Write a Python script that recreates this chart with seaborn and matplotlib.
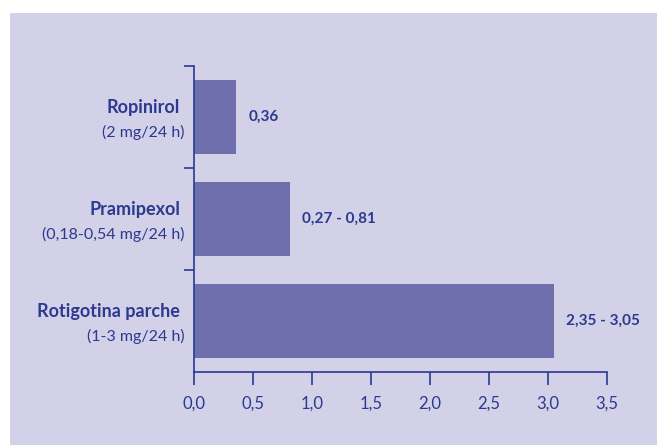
import matplotlib
matplotlib.use("Agg")

import pandas as pd
import matplotlib.pyplot as plt
import matplotlib.transforms as mtransforms
from matplotlib.patches import Rectangle
import seaborn as sns

# Data
drugs = ["Ropinirol", "Pramipexol", "Rotigotina parche"]
doses = ["(2 mg/24 h)", "(0,18-0,54 mg/24 h)", "(1-3 mg/24 h)"]
values = [0.36, 0.81, 3.05]
value_labels = ["0,36", "0,27 - 0,81", "2,35 - 3,05"]
xticks = [0, 0.5, 1.0, 1.5, 2.0, 2.5, 3.0, 3.5]
xtick_labels = ["0,0", "0,5", "1,0", "1,5", "2,0", "2,5", "3,0", "3,5"]

df = pd.DataFrame({"drug": drugs, "value": values})

bg = "#d3d1e7"
bar_color = "#6f6fae"
ink = "#2b3990"

sns.set_theme(style="white")
plt.rcParams["font.family"] = ["Lato", "DejaVu Sans"]

fig = plt.figure(figsize=(6.57, 4.45), dpi=100, facecolor="white")
# lavender panel, leaving a white margin on the left and top
fig.patches.append(Rectangle((10 / 657, 0), 1, 1 - 13 / 445, transform=fig.transFigure,
                             facecolor=bg, edgecolor="none", zorder=-10))

ax = fig.add_axes([194 / 657, 1 - 372 / 445, 413 / 657, 306 / 445])
ax.patch.set_alpha(0)

sns.barplot(data=df, x="value", y="drug", orient="h", color=bar_color,
            saturation=1, width=0.72, linewidth=0, ax=ax)

ax.set_xlim(0, 3.5)
ax.set_ylim(2.5, -0.5)
ax.set_xlabel("")
ax.set_ylabel("")

for side in ["top", "right"]:
    ax.spines[side].set_visible(False)
for side in ["left", "bottom"]:
    ax.spines[side].set_color(ink)
    ax.spines[side].set_linewidth(1.2)

ax.set_xticks(xticks)
ax.set_xticklabels(xtick_labels, color=ink, fontsize=12)
ax.set_yticks([-0.5, 0.5, 1.5])
ax.set_yticklabels([])
ax.tick_params(axis="x", direction="out", length=9, width=1.2, color=ink, pad=8, bottom=True)
ax.tick_params(axis="y", direction="out", length=7.5, width=1.2, color=ink, left=True)

# category labels: bold name over the dose
trans = mtransforms.blended_transform_factory(ax.transAxes, ax.transData)
for i, (name, dose) in enumerate(zip(drugs, doses)):
    ax.annotate(name, xy=(0, i), xycoords=trans, xytext=(-10, 6.5), textcoords="offset points",
                ha="right", va="center", fontsize=13, fontweight="bold", color=ink)
    ax.annotate(dose, xy=(0, i), xycoords=trans, xytext=(-7, -11), textcoords="offset points",
                ha="right", va="center", fontsize=11.5, color=ink)

# value labels at bar ends
for i, (v, lab) in enumerate(zip(values, value_labels)):
    ax.annotate(lab, xy=(v, i), xytext=(9, 0), textcoords="offset points",
                ha="left", va="center", fontsize=11, fontweight="bold", color=ink)

fig.savefig("out.png", dpi=100, facecolor="white")
